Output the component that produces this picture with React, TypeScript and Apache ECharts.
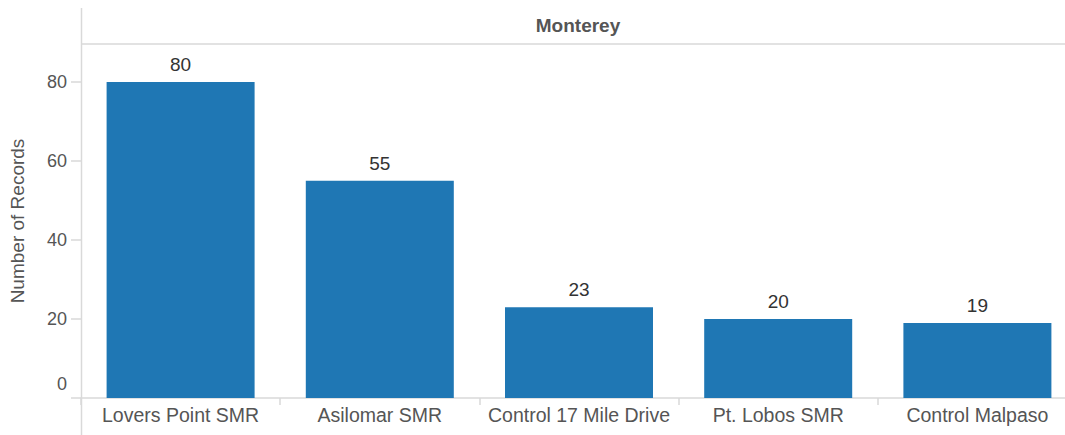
import React, { useEffect, useRef } from "react";
import * as echarts from "echarts";

const categories = ["Lovers Point SMR", "Asilomar SMR", "Control 17 Mile Drive", "Pt. Lobos SMR", "Control Malpaso"];
const records = [80, 55, 23, 20, 19];
const yTicks = [0, 20, 40, 60, 80];
const panelTitle = "Monterey";
const yTitle = "Number of Records";

const FONT = "'Liberation Sans', Arial, sans-serif";
const LINE = "#d9d9d9";

export default function App() {
  const ref = useRef<HTMLDivElement>(null);
  useEffect(() => {
    if (!ref.current) return;
    const chart = echarts.init(ref.current, null, { renderer: "svg" });
    chart.setOption({
      animation: false,
      backgroundColor: "#ffffff",
      grid: {
        left: 81,
        right: -12,
        top: 44,
        bottom: 37,
        containLabel: false,
        outerBoundsMode: "none",
      },
      graphic: [
        {
          type: "line",
          shape: { x1: 81.5, y1: 8, x2: 81.5, y2: 435 },
          style: { stroke: LINE, lineWidth: 1.5 },
          silent: true,
        },
        {
          type: "line",
          shape: { x1: 81, y1: 44, x2: 1065, y2: 44 },
          style: { stroke: LINE, lineWidth: 1.5 },
          silent: true,
        },
        {
          type: "text",
          x: 578,
          y: 25,
          style: {
            text: panelTitle,
            fill: "#555555",
            font: `bold 19px ${FONT}`,
            align: "center",
            verticalAlign: "middle",
          },
        },
      ],
      xAxis: {
        type: "category",
        data: categories,
        axisLine: { show: true, lineStyle: { color: LINE, width: 1.5 } },
        axisTick: { show: true, length: 7, interval: 0, lineStyle: { color: LINE, width: 1.5 } },
        axisLabel: { color: "#555555", fontSize: 19.5, fontFamily: FONT, margin: 7, interval: 0 },
        splitLine: { show: false },
      },
      yAxis: {
        type: "value",
        min: 0,
        max: 89.6,
        interval: 20,
        name: yTitle,
        nameLocation: "middle",
        nameGap: 54,
        nameRotate: 90,
        nameTextStyle: { color: "#555555", fontSize: 19, fontFamily: FONT },
        axisLine: { show: false },
        axisTick: {
          show: true,
          length: 10,
          customValues: yTicks,
          lineStyle: { color: LINE, width: 1.5 },
        },
        axisLabel: {
          customValues: yTicks,
          color: "#555555",
          fontSize: 18,
          fontFamily: FONT,
          margin: 14,
          formatter: (v: number) => (v === 0 ? "{z|0}" : String(v)),
          rich: { z: { padding: [0, 0, 28, 0], fontSize: 18, fontFamily: FONT, color: "#555555" } },
        },
        splitLine: { show: false },
      },
      series: [
        {
          type: "bar",
          data: records,
          barWidth: 148,
          itemStyle: { color: "#1f77b4" },
          label: {
            show: true,
            position: "top",
            distance: 8,
            color: "#333333",
            fontSize: 19,
            fontFamily: FONT,
          },
        },
      ],
    });
    return () => chart.dispose();
  }, []);
  return (
    <div
      ref={ref}
      style={{ position: "absolute", left: 0, top: 0, width: 1065, height: 435 }}
    />
  );
}
